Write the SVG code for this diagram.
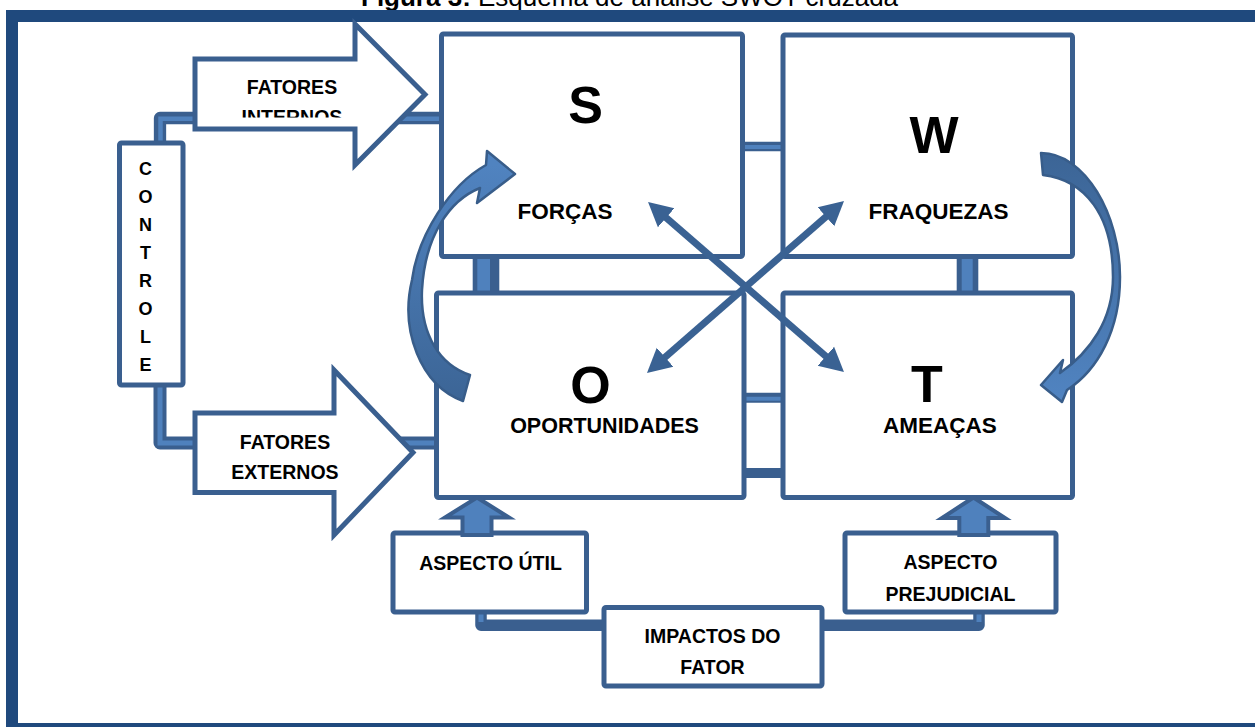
<svg xmlns="http://www.w3.org/2000/svg" width="1255" height="727" viewBox="0 0 1255 727">
<defs>
<style>
.box{fill:#fff;stroke:#3A5F8F;stroke-width:5}
.lbl{font-family:"Liberation Sans",Arial,sans-serif;font-weight:bold;fill:#000;text-anchor:middle}
.sm{font-size:19.5px}
.md{font-size:22.5px}
.big{font-size:52px}
.ctl{font-size:18px}
.pipe{fill:none;stroke:#3A5F8F;stroke-linejoin:round}
.hl{fill:none;stroke:#4F81BD}
.pipe-r{fill:#3A5F8F}
.hl-r{fill:#4F81BD}
.block{fill:#fff;stroke:#3A5F8F;stroke-width:5;stroke-linejoin:miter}
.up{fill:#4F81BD;stroke:#3A5F8F;stroke-width:4;stroke-linejoin:miter}
.cross{stroke:#3A6293;stroke-width:7;marker-start:url(#head);marker-end:url(#head)}
.curve{stroke:#385D8A;stroke-width:2.5;stroke-linejoin:round}
</style>
<marker id="head" markerUnits="userSpaceOnUse" viewBox="0 -14 26 28" refX="12" refY="0" markerWidth="26" markerHeight="28" orient="auto-start-reverse">
<path d="M0,-12.6 L24,0 L0,12.6 Z" fill="#3A6293"/>
</marker>
<linearGradient id="shadeL" gradientUnits="userSpaceOnUse" x1="0" y1="400" x2="0" y2="165">
<stop offset="0" stop-color="#3C6596"/><stop offset="1" stop-color="#5083C0"/>
</linearGradient>
<linearGradient id="shadeR" gradientUnits="userSpaceOnUse" x1="0" y1="155" x2="0" y2="395">
<stop offset="0" stop-color="#3C6596"/><stop offset="1" stop-color="#5083C0"/>
</linearGradient>
<clipPath id="cutInternos"><rect x="190" y="60" width="200" height="57.5"/></clipPath>
</defs>

<rect x="0" y="0" width="1255" height="727" fill="#fff"/>

<!-- caption above the frame -->
<text x="361" y="6" font-family="'Liberation Sans',Arial,sans-serif" font-size="26" fill="#000"><tspan font-weight="bold">Figura 3:</tspan> Esquema de análise SWOT cruzada</text>

<!-- page frame -->
<rect x="12" y="16" width="1265" height="713" fill="none" stroke="#1F497D" stroke-width="12"/>

<!-- quadrants -->
<g id="node-s">
<rect class="box" x="441.5" y="34" width="301" height="222.5" rx="2"/>
<text class="lbl big" x="585.5" y="123">S</text>
<text class="lbl md" x="565" y="219">FORÇAS</text>
</g>
<g id="node-w">
<rect class="box" x="783" y="35" width="289.5" height="221.5" rx="2"/>
<text class="lbl big" x="934" y="153">W</text>
<text class="lbl md" x="938.5" y="219">FRAQUEZAS</text>
</g>
<g id="node-o">
<rect class="box" x="436.5" y="293" width="307.5" height="204.5" rx="2"/>
<text class="lbl big" x="590.5" y="403">O</text>
<text class="lbl" style="font-size:21.5px" x="604.5" y="433">OPORTUNIDADES</text>
</g>
<g id="node-t">
<rect class="box" x="783" y="293" width="289.5" height="204.5" rx="2"/>
<text class="lbl big" x="927" y="402">T</text>
<text class="lbl md" x="940" y="433">AMEAÇAS</text>
</g>

<!-- side and bottom boxes -->
<g id="node-controle">
<rect class="box" x="119.5" y="143" width="63.5" height="242" rx="2"/>
<text class="lbl ctl" x="145.5" y="175">C</text>
<text class="lbl ctl" x="145.5" y="203">O</text>
<text class="lbl ctl" x="145.5" y="231">N</text>
<text class="lbl ctl" x="145.5" y="259">T</text>
<text class="lbl ctl" x="145.5" y="287">R</text>
<text class="lbl ctl" x="145.5" y="315">O</text>
<text class="lbl ctl" x="145.5" y="343">L</text>
<text class="lbl ctl" x="145.5" y="371">E</text>
</g>
<g id="node-aspecto-util">
<rect class="box" x="393" y="533" width="193.5" height="79" rx="2"/>
<text class="lbl sm" x="490.5" y="570">ASPECTO ÚTIL</text>
</g>
<g id="node-impactos">
<rect class="box" x="604" y="607.5" width="218" height="78.5" rx="2"/>
<text class="lbl sm" x="712.5" y="643">IMPACTOS DO</text>
<text class="lbl sm" x="712.5" y="674">FATOR</text>
</g>
<g id="node-aspecto-prejudicial">
<rect class="box" x="845" y="533" width="211" height="79" rx="2"/>
<text class="lbl sm" x="950.5" y="569">ASPECTO</text>
<text class="lbl sm" x="950.5" y="600.5">PREJUDICIAL</text>
</g>

<g id="connectors">
<!-- pipes between quadrants -->
<path class="pipe" d="M744,146.5 H781" stroke-width="9.6"/>
<path class="hl" d="M745,147 H780.5" stroke-width="4"/>
<path class="pipe" d="M746,397.7 H781" stroke-width="10"/>
<path class="hl" d="M746.5,398.7 H780.5" stroke-width="4"/>
<path class="pipe" d="M746,473 H781" stroke-width="10"/>
<rect class="pipe-r" x="472.7" y="258" width="26.6" height="33.5"/>
<rect class="hl-r" x="477.3" y="259" width="12.7" height="31.5"/>
<rect class="pipe-r" x="956.7" y="258" width="21.6" height="33.5"/>
<rect class="hl-r" x="961.7" y="259" width="11" height="31.5"/>

<!-- control pipes to the factor arrows -->
<path class="pipe" d="M160,145 V118 H440" stroke-width="12.3"/>
<path class="hl" d="M160.5,140.5 V118.7 H439" stroke-width="4.5"/>
<path class="pipe" d="M160,383 V443 H436" stroke-width="13"/>
<path class="hl" d="M160,387.5 V443 H434" stroke-width="5"/>

<!-- pipes from the impact box -->
<path class="pipe" d="M481,612 V625.3 H604" stroke-width="11.5"/>
<path class="hl" d="M481,614.5 V622" stroke-width="5"/>
<path class="pipe" d="M822,625.3 H979 V612" stroke-width="11.5"/>
<path class="hl" d="M979,622 V614.5" stroke-width="5"/>

<!-- upward block arrows -->
<polygon class="up" points="477,497.5 509,517.5 491.5,517.5 491.5,535 462.5,535 462.5,517.5 445,517.5"/>
<polygon class="up" points="973.5,497.5 1005,518 988.3,518 988.3,535 959.3,535 959.3,518 942,518"/>

<!-- diagonal cross arrows -->
<line class="cross" x1="657.1" y1="209.9" x2="834.9" y2="364.1"/>
<line class="cross" x1="656" y1="365.1" x2="835" y2="208.9"/>

<!-- curved arrows O to S and W to T -->
<path class="curve" fill="url(#shadeL)" d="M463,401 C420,385 400,330 412,280 C418,235 450,185 486,165 L487,151 L515,174 L477,203 L480,188 C450,200 425,235 422,290 C420,335 440,365 470,375 Z"/>
<path class="curve" fill="url(#shadeR)" d="M1041,153 C1085,153 1120,215 1120,277 C1120,330 1098,370 1067,390 L1062,402 L1041,385 L1063,360 L1060,373 C1090,352 1113,320 1113,277 C1113,215 1085,180 1043,175 Z"/>
</g>

<!-- factor arrows -->
<g id="node-fatores-internos">
<polygon class="block" points="195,59 355,59 355,24 425,94.5 355,165 355,129 195,129"/>
<text class="lbl sm" x="292" y="94">FATORES</text>
<text class="lbl sm" x="292" y="123.5" clip-path="url(#cutInternos)">INTERNOS</text>
</g>
<g id="node-fatores-externos">
<polygon class="block" points="195,413 334,413 334,370 413,452.5 334,535 334,492.5 195,492.5"/>
<text class="lbl sm" x="285" y="449.3">FATORES</text>
<text class="lbl sm" x="285" y="479.3">EXTERNOS</text>
</g>
</svg>
